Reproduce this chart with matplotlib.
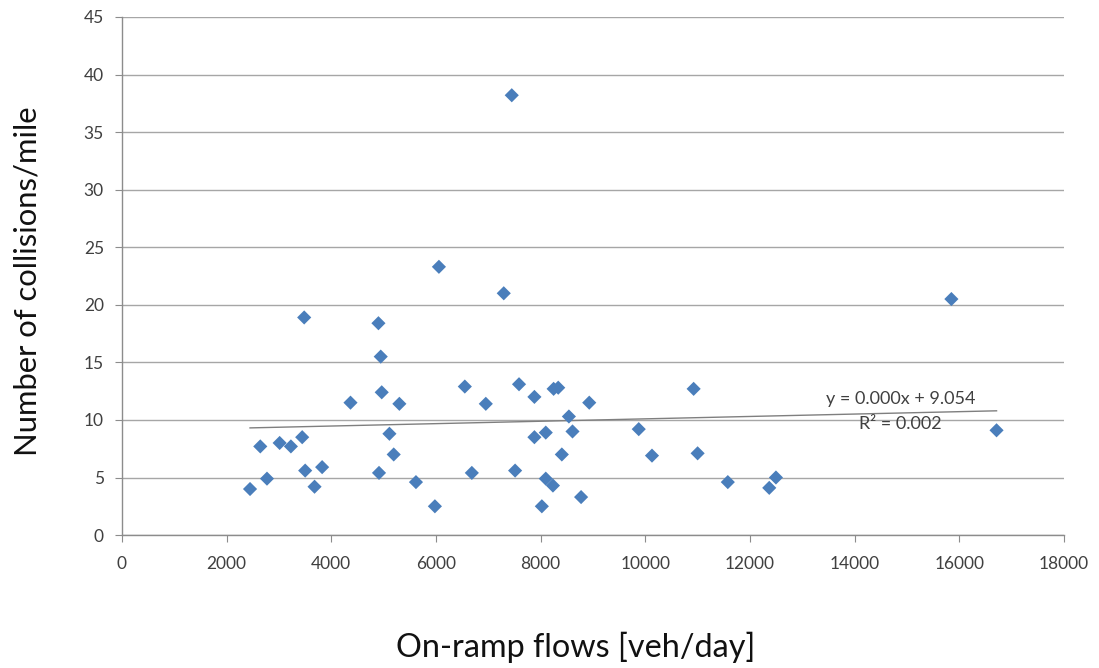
import matplotlib.pyplot as plt
import numpy as np

plt.rcParams['font.family'] = ['Lato', 'DejaVu Sans']

# on-ramp flows [veh/day] and collisions per mile
flows = [2447, 2643, 2771, 3013, 3228, 3444, 3482, 3501, 3680, 3825,
         4367, 4901, 4945, 4964, 4912, 5111, 5193, 5301, 5618, 5980,
         6057, 6552, 6686, 6953, 7296, 7449, 7588, 7513, 7882, 7882,
         8099, 8024, 8099, 8236, 8249, 8337, 8406, 8541, 8610, 8774,
         8930, 9876, 10129, 10925, 11001, 11578, 12370, 12498, 15851, 16714]
collisions = [4.0, 7.7, 4.9, 8.0, 7.7, 8.5, 18.9, 5.6, 4.2, 5.9,
              11.5, 18.4, 15.5, 12.4, 5.4, 8.8, 7.0, 11.4, 4.6, 2.5,
              23.3, 12.9, 5.4, 11.4, 21.0, 38.2, 13.1, 5.6, 12.0, 8.5,
              8.9, 2.5, 4.9, 4.3, 12.7, 12.8, 7.0, 10.3, 9.0, 3.3,
              11.5, 9.2, 6.9, 12.7, 7.1, 4.6, 4.1, 5.0, 20.5, 9.1]

# linear trendline (Excel)
slope = 0.000104
intercept = 9.054
eq_text = 'y = 0.000x + 9.054'
r2_text = 'R² = 0.002'

x_ticks = np.arange(0, 18001, 2000)
y_ticks = np.arange(0, 46, 5)

fig = plt.figure(figsize=(10.99, 6.68), dpi=100)
ax = fig.add_axes([0.111, 0.199, 0.857, 0.7756])

ax.set_axisbelow(True)
ax.grid(True, axis='y', color='#a6a6a6', linewidth=1.0)

ax.scatter(flows, collisions, marker='D', s=52, color='#4a7ebb',
           edgecolors='none', zorder=3)

tx = np.array([min(flows), max(flows)])
ax.plot(tx, slope * tx + intercept, color='#7f7f7f', linewidth=1.0, zorder=2)

ax.text(14880, 11.8, eq_text, ha='center', va='center', fontsize=13, color='#404040')
ax.text(14880, 9.65, r2_text, ha='center', va='center', fontsize=13, color='#404040')

ax.set_xlim(0, 18000)
ax.set_ylim(0, 45)
ax.set_xticks(x_ticks)
ax.set_yticks(y_ticks)

for s in ['top', 'right']:
    ax.spines[s].set_visible(False)
for s in ['left', 'bottom']:
    ax.spines[s].set_color('#8c8c8c')
    ax.spines[s].set_linewidth(1.0)

ax.tick_params(axis='both', direction='out', length=5, color='#8c8c8c',
               labelsize=12.5, labelcolor='#404040')
ax.tick_params(axis='x', pad=10)
ax.tick_params(axis='y', pad=8)

ax.set_xlabel('On-ramp flows [veh/day]', fontsize=23.3, color='#111111', va='center')
ax.set_ylabel('Number of collisions/mile', fontsize=22.3, color='#111111', va='center')
ax.xaxis.set_label_coords(0.482, -0.216)
ax.yaxis.set_label_coords(-0.0998, 0.49)

fig.savefig('out.png', dpi=100)
